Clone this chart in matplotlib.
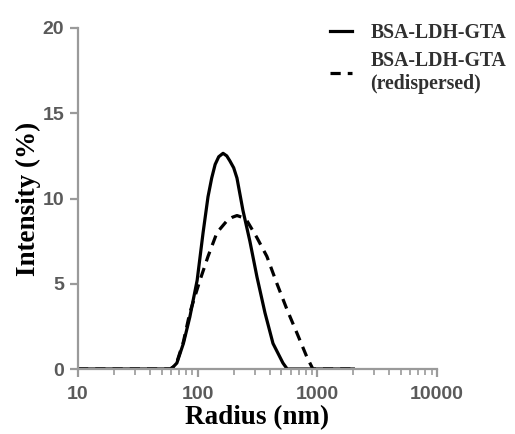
import matplotlib
matplotlib.use("Agg")
import matplotlib.pyplot as plt
from matplotlib.ticker import LogLocator, FixedLocator, NullFormatter

# Data
radius_solid = [10, 20, 40, 59, 62, 67, 76, 86, 99, 111, 122, 131, 140, 150, 163, 175, 186,
                200, 213, 239, 273, 313, 365, 426, 516, 560, 1000, 2000]
intensity_solid = [0, 0, 0, 0, 0.1, 0.35, 1.5, 3.05, 5.2, 8.0, 10.1, 11.2, 12.0, 12.45, 12.65,
                   12.5, 12.2, 11.8, 11.2, 9.3, 7.5, 5.4, 3.3, 1.5, 0.35, 0, 0, 0]

radius_dashed = [10, 20, 40, 59, 62, 67, 76, 86, 104.5, 122, 145, 176, 195, 213, 235, 258,
                 313, 379, 460, 557, 676, 818, 918, 1000, 2000]
intensity_dashed = [0, 0, 0, 0, 0.1, 0.4, 1.6, 3.3, 5.2, 6.6, 8.0, 8.7, 8.9, 9.0, 8.9, 8.7,
                    7.7, 6.6, 5.0, 3.5, 2.1, 0.7, 0, 0, 0]

label_solid = "BSA-LDH-GTA"
label_dashed = "BSA-LDH-GTA\n(redispersed)"
x_ticks = [10, 100, 1000, 10000]
x_ticklabels = ["10", "100", "1000", "10000"]
y_ticks = [0, 5, 10, 15, 20]

W, H = 515, 434
fig = plt.figure(figsize=(W / 100, H / 100), dpi=100)
ax = fig.add_axes([78 / W, 1 - 369 / H, (437 - 78) / W, (369 - 28) / H])

lw = 2.3
ax.plot(radius_solid, intensity_solid, color="black", lw=lw, label=label_solid,
        solid_joinstyle="round")
ax.plot(radius_dashed, intensity_dashed, color="black", lw=lw, linestyle=(0, (3.2, 2.2)),
        label=label_dashed)

ax.set_xscale("log")
ax.set_xlim(10, 10000)
ax.set_ylim(0, 20)

spine_c = "#9a9a9a"
tick_c = "#5a5a5a"
for s in ["top", "right"]:
    ax.spines[s].set_visible(False)
for s in ["left", "bottom"]:
    ax.spines[s].set_color(spine_c)
    ax.spines[s].set_linewidth(1.6)

ax.xaxis.set_major_locator(FixedLocator(x_ticks))
ax.set_xticklabels(x_ticklabels)
ax.xaxis.set_minor_locator(LogLocator(base=10, subs=range(2, 10)))
ax.xaxis.set_minor_formatter(NullFormatter())
ax.set_yticks(y_ticks)

ax.tick_params(axis="both", which="major", length=6, width=1.6, color=spine_c,
               labelcolor=tick_c)
ax.tick_params(axis="x", which="major", pad=6)
ax.tick_params(axis="y", which="major", pad=4)
ax.tick_params(axis="x", which="minor", length=4, width=1.2, color=spine_c)
for lab in ax.get_xticklabels() + ax.get_yticklabels():
    lab.set_fontfamily("Liberation Sans")
    lab.set_fontweight("bold")
    lab.set_fontsize(14)

label_font = dict(family="Liberation Serif", weight="bold", size=19.5, color="black")
ax.set_xlabel("Radius (nm)", labelpad=2, **label_font)
ax.set_ylabel("Intensity (%)", labelpad=1, **label_font)

leg = fig.legend(loc="upper left", bbox_to_anchor=(312 / W, 1 - 5 / H), frameon=False,
                 handlelength=1.15, handletextpad=0.9, labelspacing=0.4,
                 prop=dict(family="Liberation Serif", weight="bold", size=14.2))
for t in leg.get_texts():
    t.set_color("#303030")

fig.savefig("out.png", dpi=100)
